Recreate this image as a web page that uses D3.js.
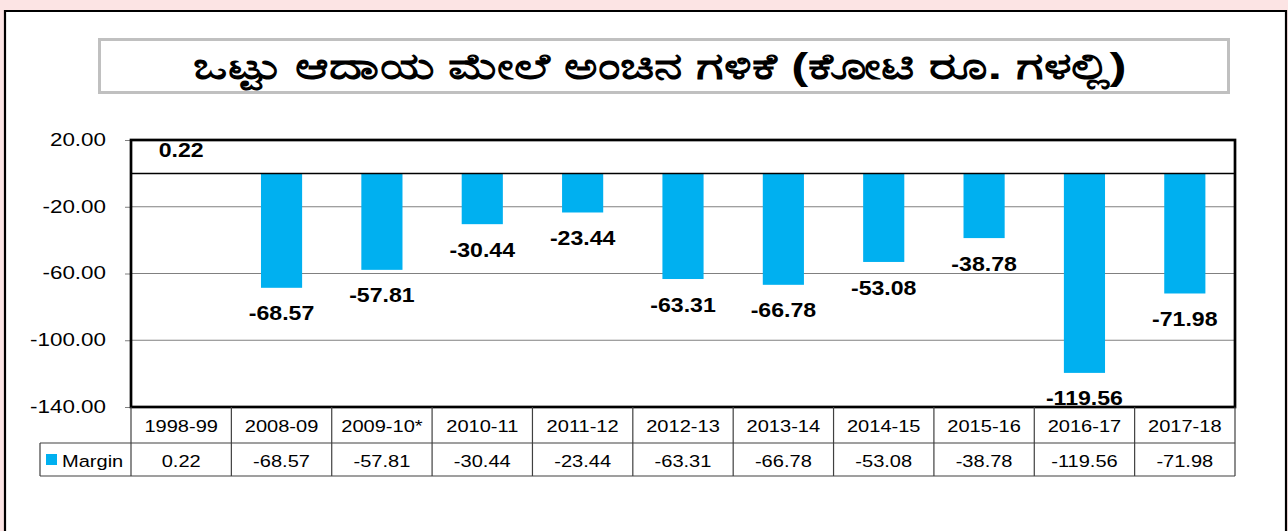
<!DOCTYPE html>
<html>
<head>
<meta charset="utf-8">
<title>Margin chart</title>
<script src="https://d3js.org/d3.v7.min.js"></script>
<style>
  body { margin: 0; background: #fce4e4; }
  svg { display: block; }
  text { font-family: Arial, "Liberation Sans", sans-serif; }
</style>
</head>
<body>
<div id="chart"></div>
<script>
// chart data
var years = ["1998-99", "2008-09", "2009-10*", "2010-11", "2011-12", "2012-13",
             "2013-14", "2014-15", "2015-16", "2016-17", "2017-18"];
var margin = [0.22, -68.57, -57.81, -30.44, -23.44, -63.31, -66.78, -53.08, -38.78, -119.56, -71.98];
var seriesName = "Margin";
var yTicks = [20, -20, -60, -100, -140];
var titleText = "ಒಟ್ಟು ಆದಾಯ ಮೇಲೆ ಅಂಚಿನ ಗಳಿಕೆ (ಕೋಟಿ ರೂ. ಗಳಲ್ಲಿ)";

var W = 1288, H = 531;
var plot = {left: 131, right: 1235, top: 140, bottom: 407};
var barColor = "#00b0f0";
var stretch = 1.18; // the original image is a little wider than tall

var svg = d3.select("#chart").append("svg")
  .attr("width", W).attr("height", H);

// text helper: horizontally stretched text at (x, y)
function stext(parent, x, y, sx, anchor, size, weight, str) {
  return parent.append("text")
    .attr("transform", "translate(" + x + "," + y + ") scale(" + sx + ",1)")
    .attr("text-anchor", anchor)
    .attr("dy", "0.36em")
    .attr("font-size", size)
    .attr("font-weight", weight)
    .attr("fill", "#000")
    .text(str);
}

// white chart area with black frame (no bottom edge visible)
svg.append("rect").attr("x", 5).attr("y", 11).attr("width", 1281).attr("height", H)
  .attr("fill", "#fff");
svg.append("path").attr("d", "M5," + H + "V11H1286V" + H)
  .attr("fill", "none").attr("stroke", "#000").attr("stroke-width", 2.2);

// title box
svg.append("rect").attr("x", 99.5).attr("y", 39.5).attr("width", 1129).attr("height", 53)
  .attr("fill", "#fff").attr("stroke", "#c0c0c0").attr("stroke-width", 3);
var title = svg.append("text")
  .attr("text-anchor", "middle")
  .attr("font-size", 36).attr("font-weight", "bold")
  .attr("fill", "#000")
  .text(titleText);
var tw = title.node().getComputedTextLength();
title.attr("transform", "translate(660,79) scale(" + (930 / tw) + ",1)");

// scales
var x = d3.scaleBand().domain(years).range([plot.left, plot.right]).paddingInner(0).paddingOuter(0);
var y = d3.scaleLinear().domain([-140, 20]).range([plot.bottom, plot.top]);
var barW = x.bandwidth() * 0.41;

// gridlines
svg.append("g").selectAll("line")
  .data(yTicks.filter(function(d) { return d != 20 && d != -140; }))
  .enter().append("line")
  .attr("x1", plot.left).attr("x2", plot.right)
  .attr("y1", function(d) { return y(d); }).attr("y2", function(d) { return y(d); })
  .attr("stroke", "#808080").attr("stroke-width", 1.2);

// y axis
var yAxis = svg.append("g")
  .attr("transform", "translate(" + plot.left + ",0)")
  .call(d3.axisLeft(y).tickValues(yTicks).tickSize(6).tickFormat(""));
yAxis.select(".domain").remove();
yAxis.selectAll(".tick line").attr("stroke", "#808080");
yTicks.forEach(function(t) {
  stext(svg, 106, y(t) - 1, stretch, "end", 19, "normal", t.toFixed(2));
});

// bars
svg.append("g").selectAll("rect")
  .data(margin)
  .enter().append("rect")
  .attr("x", function(d, i) { return x(years[i]) + (x.bandwidth() - barW) / 2; })
  .attr("y", function(d) { return y(Math.max(0, d)); })
  .attr("width", barW)
  .attr("height", function(d) { return Math.abs(y(d) - y(0)); })
  .attr("fill", barColor);

// zero line
svg.append("line")
  .attr("x1", plot.left).attr("x2", plot.right)
  .attr("y1", y(0)).attr("y2", y(0))
  .attr("stroke", "#000").attr("stroke-width", 1.5);

// value labels
var labels = svg.append("g");
margin.forEach(function(d, i) {
  var ly = d >= 0 ? y(d) - 24 : y(d) + 25;
  stext(labels, x(years[i]) + x.bandwidth() / 2, ly, 1.1, "middle", 21, "bold", d.toFixed(2));
});

// plot frame
svg.append("rect")
  .attr("x", plot.left).attr("y", plot.top)
  .attr("width", plot.right - plot.left).attr("height", plot.bottom - plot.top)
  .attr("fill", "none").attr("stroke", "#000").attr("stroke-width", 2.7);

// data table
var row1 = plot.bottom, row2 = 443, row3 = 476, legendLeft = 40;
var table = svg.append("g");
table.selectAll("line.v1")
  .data(years)
  .enter().append("line")
  .attr("x1", function(d) { return x(d) + x.bandwidth(); })
  .attr("x2", function(d) { return x(d) + x.bandwidth(); })
  .attr("y1", row1).attr("y2", row3)
  .attr("stroke", "#404040").attr("stroke-width", 1.2);
table.append("line").attr("x1", plot.left).attr("x2", plot.left)
  .attr("y1", row1).attr("y2", row3).attr("stroke", "#404040").attr("stroke-width", 1.2);
table.append("line").attr("x1", legendLeft).attr("x2", legendLeft)
  .attr("y1", row2).attr("y2", row3).attr("stroke", "#404040").attr("stroke-width", 1.2);
[row2, row3].forEach(function(r) {
  table.append("line").attr("x1", legendLeft).attr("x2", plot.right)
    .attr("y1", r).attr("y2", r).attr("stroke", "#404040").attr("stroke-width", 1.2);
});

years.forEach(function(d, i) {
  var cx = x(d) + x.bandwidth() / 2;
  stext(table, cx, (row1 + row2) / 2 + 1, stretch, "middle", 17, "normal", d);
  stext(table, cx, (row2 + row3) / 2 + 1, stretch, "middle", 17, "normal", margin[i].toFixed(2));
});

// legend key
table.append("rect").attr("x", 46).attr("y", 454).attr("width", 11).attr("height", 11)
  .attr("fill", barColor);
stext(table, 62, (row2 + row3) / 2 + 1, stretch, "start", 17, "normal", seriesName);
</script>
</body>
</html>
